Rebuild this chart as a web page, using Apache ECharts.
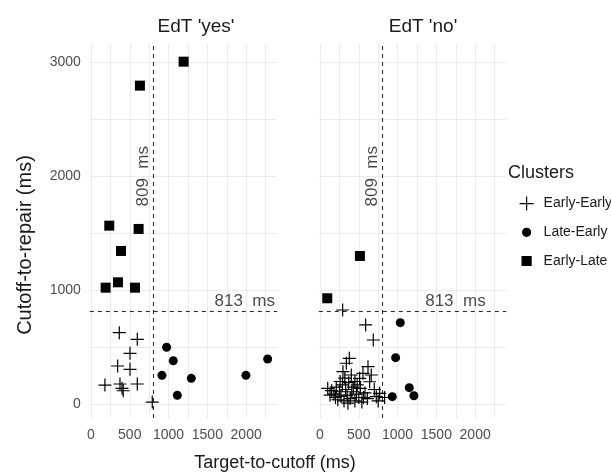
<!DOCTYPE html>
<html><head><meta charset="utf-8">
<script src="https://cdn.jsdelivr.net/npm/echarts@6/dist/echarts.min.js"></script>
<style>html,body{margin:0;padding:0;background:#fff}#c{width:611px;height:475px}</style>
</head><body><div id="c"></div>
<script>
// ---- data ----
const panels = ["EdT 'yes'", "EdT 'no'"];
const clusters = ['Early-Early', 'Late-Early', 'Early-Late'];
const xTicks = [0, 500, 1000, 1500, 2000];
const xMinor = [250, 750, 1250, 1750, 2250];
const yTicks = [0, 1000, 2000, 3000];
const yMinor = [500, 1500, 2500];
const cutoffX = 809;   // vertical dashed line
const cutoffY = 813;   // horizontal dashed line
const vLabel = '809  ms';
const hLabel = '813  ms';
const vLabelAt = [[675, 2000], [675, 2000]];
const hLabelAt = [[1982, 900], [1746, 900]];

const yesEarlyEarly = [[365,628],[597,570],[503,447],[344,336],[503,307],[180,169],[374,178],[416,119],[400,140],[597,178],[790,20]];
const yesLateEarly = [[975,500],[1061,382],[915,254],[1293,228],[1113,79],[1997,254],[2277,397]];
const yesEarlyLate = [[1194,3005],[631,2795],[236,1567],[614,1538],[387,1345],[189,1023],[348,1070],[567,1023]];

const noEarlyEarly = [[292,827],[589,696],[687,564],[378,403],[340,360],[296,286],[404,257],[619,330],[554,272],[511,228],[661,257],[640,198],[769,96],[726,67],[833,60],[100,140],[150,120],[180,90],[210,150],[230,40],[250,110],[270,70],[290,170],[310,30],[330,130],[350,80],[370,190],[390,50],[410,110],[430,150],[450,30],[470,90],[500,60],[520,140],[540,20],[580,100],[610,50],[450,200],[200,60],[320,230],[260,200],[700,130],[750,30],[130,80],[360,10],[480,170],[560,60]];
const noLateEarly = [[1035,716],[975,409],[932,67],[1151,146],[1211,75]];
const noEarlyLate = [[515,1301],[94,930]];

const panelData = [
  [yesEarlyEarly, yesLateEarly, yesEarlyLate],
  [noEarlyEarly, noLateEarly, noEarlyLate]
];

// ---- styling ----
const FONT = 'Liberation Sans, Arial, sans-serif';
const xMin = -15, xMax = 2400, yMin = -120, yMax = 3160;
const crossPath = 'path://M7,0L7,14M0,7L14,7';
const legendIcons = [
  crossPath,
  'path://M0,0M14,14M11,7A4,4,0,1,1,3,7A4,4,0,1,1,11,7Z',
  'path://M0,0M14,14M2.5,2.5L11.5,2.5L11.5,11.5L2.5,11.5Z'
];
const symbolDefs = [
  {symbol: crossPath, size: 13, itemStyle: {color: 'rgba(0,0,0,0)', borderColor: '#000', borderWidth: 1.2, opacity: 1}},
  {symbol: 'circle', size: 9, itemStyle: {color: '#000', borderColor: '#000', borderWidth: 0, opacity: 1}},
  {symbol: 'rect', size: 10, itemStyle: {color: '#000', borderColor: '#000', borderWidth: 0, opacity: 1}}
];

const grids = [
  {left: 89.8, top: 44, width: 187.4, height: 374},
  {left: 318.8, top: 44, width: 187.4, height: 374}
];

const plain = v => String(v);
const xAxes = grids.map((g, i) => ({
  type: 'value', gridIndex: i, min: xMin, max: xMax,
  axisLine: {show: false}, axisTick: {show: false}, splitLine: {show: false},
  axisLabel: {customValues: xTicks, formatter: plain, color: '#4d4d4d', fontSize: 14, fontFamily: FONT, margin: 10}
}));
const yAxes = grids.map((g, i) => ({
  type: 'value', gridIndex: i, min: yMin, max: yMax,
  axisLine: {show: false}, axisTick: {show: false}, splitLine: {show: false},
  axisLabel: {show: i === 0, customValues: yTicks, formatter: plain, color: '#4d4d4d', fontSize: 14, fontFamily: FONT, margin: 9}
}));

const series = [];
grids.forEach((g, i) => {
  // grid lines
  series.push({
    type: 'scatter', xAxisIndex: i, yAxisIndex: i, data: [], z: 1, silent: true,
    markLine: {
      silent: true, symbol: 'none', label: {show: false}, animation: false, z: 1,
      lineStyle: {color: '#ebebeb', width: 1, type: 'solid'},
      emphasis: {disabled: true},
      data: xTicks.concat(xMinor).map(v => ({xAxis: v}))
        .concat(yTicks.concat(yMinor).map(v => ({yAxis: v})))
    }
  });
  // cutoff lines
  series.push({
    type: 'scatter', xAxisIndex: i, yAxisIndex: i, data: [], z: 2, silent: true,
    markLine: {
      silent: true, symbol: 'none', label: {show: false}, animation: false, z: 2,
      lineStyle: {color: '#2b2b2b', width: 1.1, type: [4, 4]},
      emphasis: {disabled: true},
      data: [{xAxis: cutoffX}, {yAxis: cutoffY}]
    }
  });
  // points
  clusters.forEach((name, k) => {
    const d = symbolDefs[k];
    series.push({
      type: 'scatter', name: name, xAxisIndex: i, yAxisIndex: i, z: 3,
      symbol: d.symbol, symbolSize: d.size, itemStyle: d.itemStyle,
      data: panelData[i][k]
    });
  });
  // annotations
  series.push({
    type: 'scatter', xAxisIndex: i, yAxisIndex: i, z: 4, silent: true, symbolSize: 0,
    data: [vLabelAt[i]],
    label: {show: true, position: 'inside', formatter: vLabel, rotate: 90,
      fontSize: 17, fontFamily: FONT, color: '#1a1a1a', align: 'center', verticalAlign: 'middle'}
  });
  series.push({
    type: 'scatter', xAxisIndex: i, yAxisIndex: i, z: 4, silent: true, symbolSize: 0,
    data: [hLabelAt[i]],
    label: {show: true, position: 'inside', formatter: hLabel,
      fontSize: 17, fontFamily: FONT, color: '#1a1a1a', align: 'center', verticalAlign: 'middle'}
  });
});

const chart = echarts.init(document.getElementById('c'), null, {renderer: 'canvas'});
chart.setOption({
  backgroundColor: '#fff',
  animation: false,
  grid: grids,
  xAxis: xAxes,
  yAxis: yAxes,
  legend: {
    data: clusters.map((n, k) => ({name: n, icon: legendIcons[k]})),
    orient: 'vertical', left: 514, top: 191,
    itemWidth: 14, itemHeight: 14, itemGap: 13.5,
    itemStyle: {borderWidth: 1.2, opacity: 1},
    textStyle: {fontSize: 14, fontFamily: FONT, color: '#1a1a1a', padding: [0, 0, 0, 5]},
    selectedMode: false
  },
  graphic: [
    {type: 'text', x: 196, y: 27, style: {text: panels[0], font: '19px ' + FONT, fill: '#1a1a1a', align: 'center', verticalAlign: 'middle'}},
    {type: 'text', x: 423, y: 27, style: {text: panels[1], font: '19px ' + FONT, fill: '#1a1a1a', align: 'center', verticalAlign: 'middle'}},
    {type: 'text', x: 275, y: 463, style: {text: 'Target-to-cutoff (ms)', font: '18px ' + FONT, fill: '#1a1a1a', align: 'center', verticalAlign: 'middle'}},
    {type: 'text', x: 25, y: 245, rotation: Math.PI / 2, style: {text: 'Cutoff-to-repair (ms)', font: '20px ' + FONT, fill: '#1a1a1a', align: 'center', verticalAlign: 'middle'}},
    {type: 'text', x: 508, y: 173, style: {text: 'Clusters', font: '18px ' + FONT, fill: '#1a1a1a', align: 'left', verticalAlign: 'middle'}}
  ],
  series: series
});
</script></body></html>
